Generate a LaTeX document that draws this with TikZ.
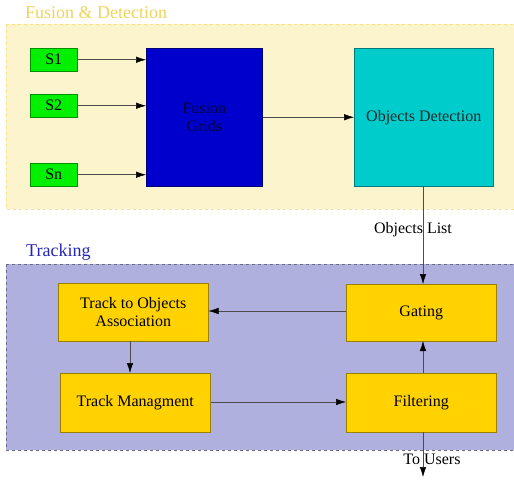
\documentclass[tikz,border=0pt]{standalone}
\usepackage{fontspec}
\setmainfont{Liberation Serif}
\usetikzlibrary{arrows.meta,patterns}
\definecolor{yreg}{HTML}{FCF4CC}
\definecolor{breg}{HTML}{B0B0DE}
\definecolor{ytitle}{HTML}{F2D35A}
\definecolor{btitle}{HTML}{2424B8}
\definecolor{sgreen}{HTML}{00F000}
\definecolor{fblue}{HTML}{0000CC}
\definecolor{ocyan}{HTML}{00CCCC}
\definecolor{tyellow}{HTML}{FFD200}
\tikzset{
  box/.style={draw=#1!60!black, line width=0.5pt, fill=#1, anchor=north west, inner sep=0pt, align=center, font=\fontsize{16}{18}\selectfont},
  conn/.style={draw=black!70, line width=0.5pt, -{Latex[length=10pt,width=6.5pt,fill=black,color=black]}},
  lbl/.style={font=\fontsize{16}{18}\selectfont, inner sep=0pt},
}
\begin{document}
\begin{tikzpicture}[x=1pt,y=-1pt]
\useasboundingbox (0,0) rectangle (514,481);
% regions
\fill[yreg] (6,24) rectangle (514,209);
\draw[ytitle!60!yreg, dashed] (6,24) -- (514,24) (6,24) -- (6,209) -- (514,209);
\fill[breg] (6,264) rectangle (514,450);
\draw[breg!60!black, dashed] (6,264) -- (514,264) (6,264) -- (6,450) -- (514,450);
\node[anchor=west, text=ytitle, font=\fontsize{18}{20}\selectfont, inner sep=0pt] (tfus) at (25,13) {Fusion \& Detection};
\node[anchor=west, text=btitle, font=\fontsize{18}{20}\selectfont, inner sep=0pt] (ttrk) at (26,252) {Tracking};
% top boxes
\node[box=sgreen, minimum width=47pt, minimum height=23pt] (s1) at (30,48) {S1};
\node[box=sgreen, minimum width=47pt, minimum height=23pt] (s2) at (30,94) {S2};
\node[box=sgreen, minimum width=47pt, minimum height=23pt] (sn) at (30,163) {Sn};
\node[box=fblue, minimum width=116pt, minimum height=138pt, text=black!80!blue] (fg) at (146,48) {Fusion\\[0pt]Grids};
\node[box=ocyan, minimum width=139pt, minimum height=138pt, text=black!85] (od) at (354,48) {Objects Detection};
% tracking boxes
\node[box=tyellow, minimum width=150pt, minimum height=58pt] (ta) at (58,283) {Track to Objects\\[0pt]Association};
\node[box=tyellow, minimum width=150pt, minimum height=59pt] (tm) at (60,373) {Track Managment};
\node[box=tyellow, minimum width=150pt, minimum height=57pt] (ga) at (346,284) {Gating};
\node[box=tyellow, minimum width=150pt, minimum height=59pt] (fi) at (346,373) {Filtering};
% connectors
\draw[conn] (s1.east) -- (s1.east -| fg.west);
\draw[conn] (s2.east) -- (s2.east -| fg.west);
\draw[conn] (sn.east) -- (sn.east -| fg.west);
\draw[conn] (fg.east) -- (od.west);
\coordinate (odb) at (423,186);
\coordinate (gat) at (423,284);
\draw[conn] (odb) -- (gat);
\node[lbl] (ol) at (413,230) {Objects List};
\draw[conn] (ga.west |- 0,311) -- (ta.east |- 0,311);
\draw[conn] (130,341) -- (130,373);
\draw[conn] (tm.east |- 0,402) -- (fi.west |- 0,402);
\draw[conn] (423,373) -- (423,341);
\coordinate (usr) at (423,477);
\draw[conn] (423,432) -- (usr);
\node[lbl] (tu) at (432,459) {To Users};
\end{tikzpicture}
\end{document}
